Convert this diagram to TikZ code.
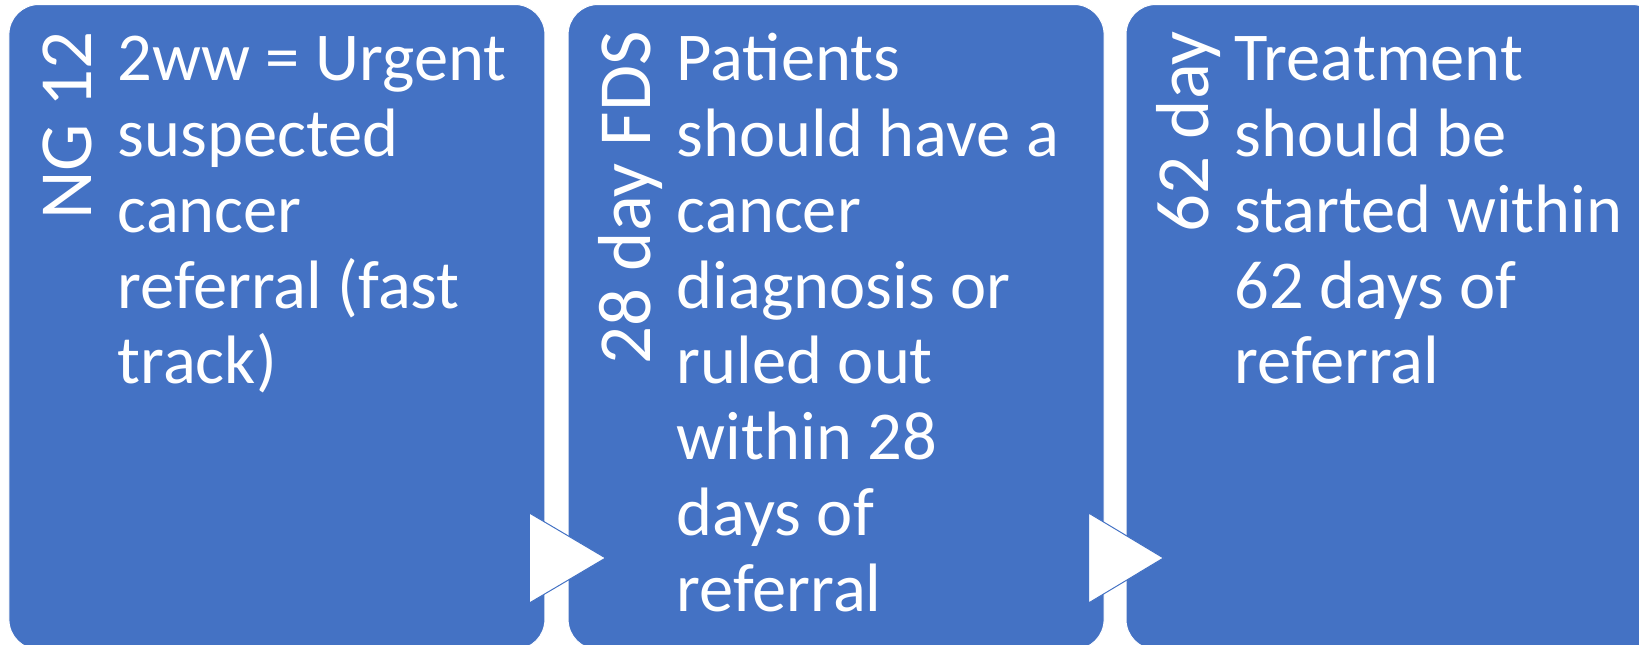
\documentclass[tikz,border=0pt]{standalone}
\usepackage{fontspec}
\setmainfont{Carlito}
\usetikzlibrary{calc}
\definecolor{boxblue}{HTML}{4472C4}
\newcommand{\stagetext}[1]{\parbox[t]{460pt}{\raggedright #1}}
\begin{document}
\begin{tikzpicture}[x=1pt,y=-1pt,
  stagebox/.style={draw=white, line width=1pt, fill=boxblue, rounded corners=30pt,
    minimum width=536pt, minimum height=645pt, inner sep=0pt, anchor=north west},
  bodytext/.style={text=white, inner sep=0pt, anchor=base west,
    font=\fontsize{68.5}{76}\selectfont},
  sidetext/.style={text=white, inner sep=0pt, rotate=90, anchor=base east,
    font=\fontsize{75}{90}\selectfont},
  chevron/.style={fill=white, draw=boxblue, line width=1pt, line join=miter}]
\useasboundingbox (0,0) rectangle (1639,645);
\clip (0,0) rectangle (1639,645);

% three stages
\node[stagebox] (box1) at (8.4,4) {};
\node[stagebox] (box2) at (567.6,4) {};
\node[stagebox] (box3) at (1125.5,4) {};

% arrowheads between the stages
\draw[chevron] ($(box1.north east)+(-16,509)$) -- ($(box2.north west)+(38,554)$)
  -- ($(box1.north east)+(-16,599)$) -- cycle;
\draw[chevron] ($(box2.north east)+(-16,509)$) -- ($(box3.north west)+(38,554)$)
  -- ($(box2.north east)+(-16,599)$) -- cycle;

% side titles
\node[sidetext] (t1) at ($(box1.north west)+(83,27)$) {NG 12};
\node[sidetext] (t2) at ($(box2.north west)+(83,27)$) {28 day FDS};
\node[sidetext] (t3) at ($(box3.north west)+(83,27)$) {62 day};

% descriptions
\node[bodytext] (d1) at ($(box1.north west)+(109,76)$)
  {\stagetext{2ww = Urgent\\suspected\\cancer\\referral (fast\\track)}};
\node[bodytext] (d2) at ($(box2.north west)+(109,76)$)
  {\stagetext{Patients\\should have a\\cancer\\diagnosis or\\ruled out\\within 28\\days of\\referral}};
\node[bodytext] (d3) at ($(box3.north west)+(109,76)$)
  {\stagetext{Treatment\\should be\\started within\\62 days of\\referral}};
\end{tikzpicture}
\end{document}
